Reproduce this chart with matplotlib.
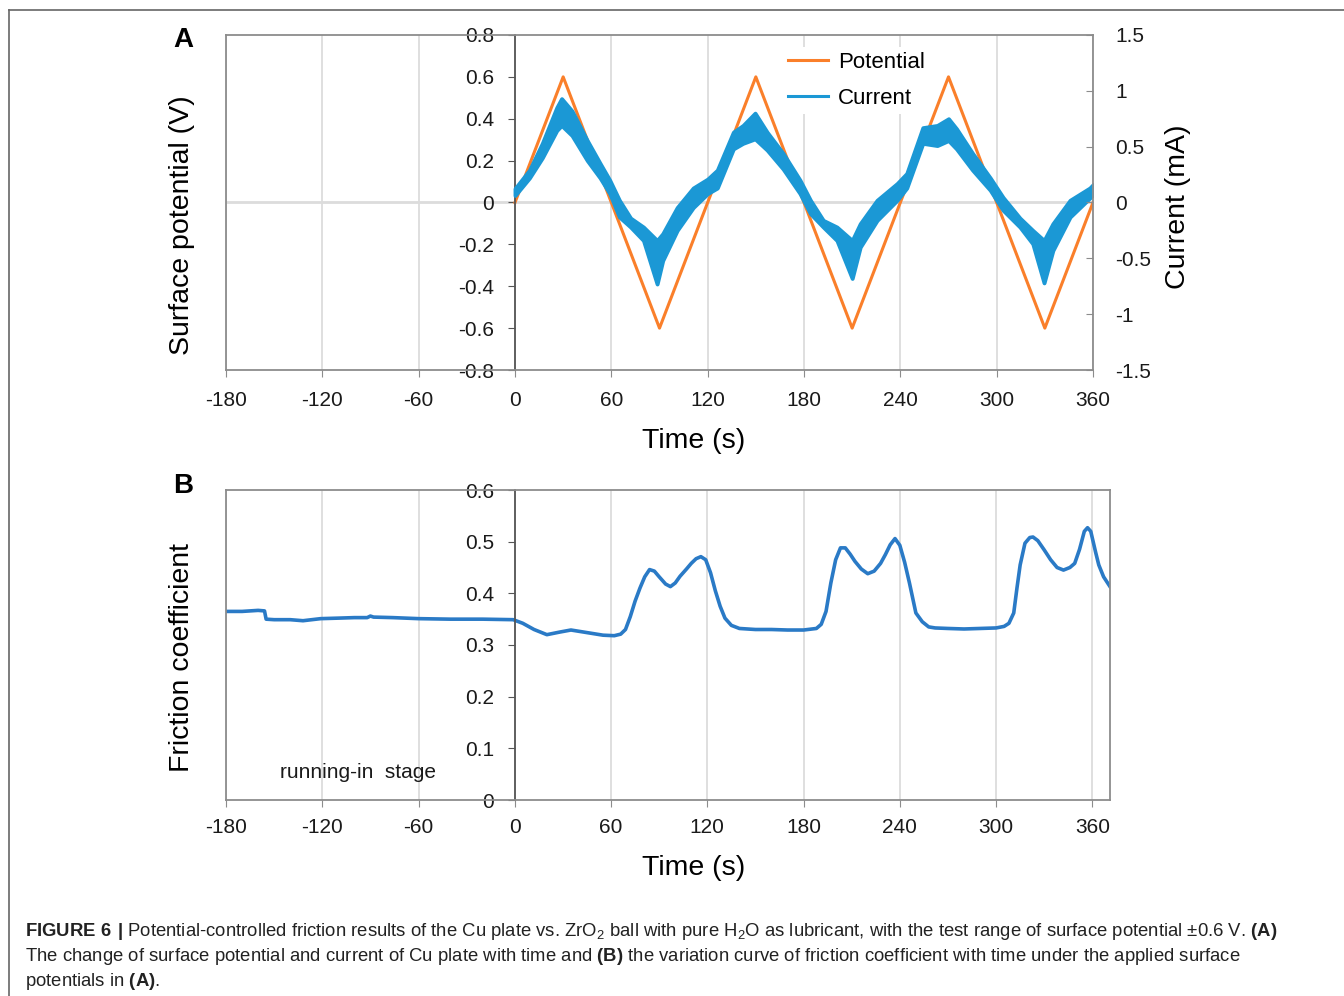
import matplotlib
matplotlib.use('Agg')
import matplotlib.pyplot as plt
from matplotlib import font_manager
from matplotlib.lines import Line2D

names = {f.name for f in font_manager.fontManager.ttflist}
narrow = 'Liberation Sans Narrow' in names
cap_font = 'Liberation Sans Narrow' if narrow else 'Liberation Sans'
cap_size = 15 if narrow else 13.3

plt.rcParams['font.family'] = ['Liberation Sans', 'DejaVu Sans']
plt.rcParams['mathtext.fontset'] = 'custom'
plt.rcParams['mathtext.rm'] = cap_font
plt.rcParams['mathtext.bf'] = cap_font + ':bold'

# ---- data ----
pot_t = [0, 30, 90, 150, 210, 270, 330, 360]
pot_v = [0, 0.6, -0.6, 0.6, -0.6, 0.6, -0.6, 0]

cur_t = [0, 9, 17, 26, 29, 35.5, 45, 53, 59, 65, 72, 80, 88.5, 92, 101, 111, 120,
         126, 136, 142, 149.5, 157, 167, 177.5, 184, 192, 200.5, 210, 215, 225.5, 238,
         244, 254, 263, 270, 275, 285, 296, 304, 314.5, 322.5, 329.5, 335, 345.7, 358, 360]
cur_hi = [0.125, 0.29, 0.53, 0.85, 0.93, 0.82, 0.555, 0.35, 0.20, 0.02, -0.14, -0.22, -0.34, -0.28, -0.045, 0.13, 0.21,
          0.29, 0.63, 0.69, 0.80, 0.63, 0.44, 0.20, 0.02, -0.16, -0.22, -0.34, -0.19, 0.02, 0.17,
          0.26, 0.67, 0.69, 0.75, 0.66, 0.44, 0.22, 0.045, -0.14, -0.25, -0.34, -0.19, 0.02, 0.13, 0.16]
cur_lo = [0.063, 0.22, 0.40, 0.645, 0.69, 0.60, 0.376, 0.22, 0.08, -0.13, -0.22, -0.34, -0.73, -0.52, -0.25, -0.045, 0.08,
          0.13, 0.48, 0.53, 0.57, 0.47, 0.30, 0.08, -0.10, -0.22, -0.34, -0.68, -0.40, -0.16, 0.02,
          0.13, 0.53, 0.51, 0.555, 0.48, 0.29, 0.11, -0.07, -0.22, -0.37, -0.72, -0.43, -0.13, 0.04, 0.07]

fric_t = [-180, -170, -160, -156, -155, -150, -140, -132, -121, -110, -100, -92, -90, -88, -76, -60, -40, -20, -1,
          5, 12, 20, 28, 35, 45, 55, 62, 66, 69, 72, 75, 78, 81, 84, 87, 90, 94, 97, 100, 103, 107, 110, 113,
          116, 119, 122, 125, 128, 131, 135, 140, 150, 160, 170, 180, 188, 191, 194, 197, 200, 203, 206, 209,
          212, 216, 220, 224, 228, 231, 234, 237, 240, 243, 246, 250, 254, 258, 262, 270, 280, 290, 300, 305,
          308, 311, 313, 315, 318, 321, 323, 326, 330, 334, 338, 342, 346, 349, 352, 355, 357, 359, 362, 364,
          367, 371]
fric_v = [0.365, 0.365, 0.367, 0.366, 0.350, 0.349, 0.349, 0.347, 0.351, 0.352, 0.353, 0.353, 0.356, 0.354, 0.353,
          0.351, 0.350, 0.350, 0.349,
          0.342, 0.330, 0.320, 0.325, 0.329, 0.324, 0.319, 0.318, 0.321, 0.330, 0.355, 0.385, 0.410, 0.432, 0.446,
          0.443, 0.432, 0.418, 0.413, 0.420, 0.433, 0.447, 0.458, 0.467,
          0.471, 0.465, 0.440, 0.405, 0.375, 0.352, 0.338, 0.332, 0.330, 0.330, 0.329, 0.329, 0.332, 0.340, 0.365,
          0.420, 0.465, 0.488, 0.488, 0.476,
          0.462, 0.447, 0.438, 0.443, 0.458, 0.475, 0.494, 0.506, 0.493, 0.460, 0.420, 0.362, 0.345, 0.335, 0.333,
          0.332, 0.331, 0.332, 0.333, 0.336,
          0.342, 0.362, 0.410, 0.455, 0.497, 0.508, 0.509, 0.502, 0.484, 0.465, 0.450, 0.445, 0.450, 0.458, 0.485,
          0.520, 0.527, 0.520, 0.480, 0.455,
          0.432, 0.413]

x_ticks = [-180, -120, -60, 0, 60, 120, 180, 240, 300, 360]
pot_ticks = [-0.8, -0.6, -0.4, -0.2, 0, 0.2, 0.4, 0.6, 0.8]
pot_labels = ['-0.8', '-0.6', '-0.4', '-0.2', '0', '0.2', '0.4', '0.6', '0.8']
cur_ticks = [-1.5, -1, -0.5, 0, 0.5, 1, 1.5]
cur_labels = ['-1.5', '-1', '-0.5', '0', '0.5', '1', '1.5']
fric_ticks = [0, 0.1, 0.2, 0.3, 0.4, 0.5, 0.6]
fric_labels = ['0', '0.1', '0.2', '0.3', '0.4', '0.5', '0.6']

ORANGE = '#FA7F2A'
CYAN = '#1B98D5'
BLUE = '#2A7AC6'
FRAME = '#8c8c8c'
AXIS = '#555555'
GRID = '#dcdcdc'

fig = plt.figure(figsize=(13.44, 9.96), dpi=100)


def setup(ax, xmax, xpad):
    ax.set_xlim(-180, xmax)
    ax.set_xticks(x_ticks)
    ax.set_xticklabels([str(v) for v in x_ticks])
    ax.grid(axis='x', color=GRID, lw=1.3)
    ax.spines['left'].set_position(('data', 0))
    ax.spines['left'].set_color(AXIS)
    ax.spines['left'].set_linewidth(1.3)
    for s in ['top', 'bottom', 'right']:
        ax.spines[s].set_color(FRAME)
        ax.spines[s].set_linewidth(1.3)
    ax.axvline(-180, color=FRAME, lw=1.3, clip_on=False, zorder=3)
    ax.tick_params(axis='x', labelsize=15, length=5, color=FRAME, pad=xpad, labelcolor='#1a1a1a')
    ax.tick_params(axis='y', labelsize=15, length=5, color=AXIS, pad=10, labelcolor='#1a1a1a')


# ---- panel A ----
ax1 = fig.add_axes([226 / 1344, 1 - 370 / 996, 867 / 1344, 335 / 996])
setup(ax1, 360, 10)
ax1.set_ylim(-0.8, 0.8)
ax1.set_yticks(pot_ticks)
ax1.set_yticklabels(pot_labels)
ax1.axhline(0, color=GRID, lw=2, zorder=0.5)
ax1.spines['right'].set_visible(False)
l_pot, = ax1.plot(pot_t, pot_v, color=ORANGE, lw=2.2, label='Potential')

ax2 = ax1.twinx()
ax2.set_ylim(-1.5, 1.5)
ax2.set_yticks(cur_ticks)
ax2.set_yticklabels(cur_labels)
for s in ['top', 'bottom', 'left']:
    ax2.spines[s].set_visible(False)
ax2.spines['right'].set_color(FRAME)
ax2.spines['right'].set_linewidth(1.3)
ax2.tick_params(axis='y', direction='in', labelsize=15, length=5, color=FRAME, pad=16, labelcolor='#1a1a1a')
ax2.fill_between(cur_t, cur_lo, cur_hi, color=CYAN, lw=2.8, edgecolor=CYAN)
l_cur = Line2D([], [], color=CYAN, lw=2.2, label='Current')
leg = ax2.legend(handles=[l_pot, l_cur], loc='upper left', bbox_to_anchor=(0.634, 0.985),
                 fontsize=16, frameon=True, edgecolor='none', facecolor='white', framealpha=1,
                 handlelength=1.8, handletextpad=0.45, labelspacing=0.65, borderpad=0.25, borderaxespad=0.3)

# ---- panel B ----
ax3 = fig.add_axes([226 / 1344, 1 - 800 / 996, 884 / 1344, 310 / 996])
setup(ax3, 371, 8)
ax3.set_ylim(0, 0.6)
ax3.set_yticks(fric_ticks)
ax3.set_yticklabels(fric_labels)
ax3.plot(fric_t, fric_v, color=BLUE, lw=2.6)
ax3.text(-98, 0.053, 'running-in  stage', fontsize=15, ha='center', va='center', color='#1a1a1a')

# ---- labels ----
fig.text(183 / 1344, 1 - 40 / 996, 'A', fontsize=20, fontweight='bold', ha='center', va='center')
fig.text(183 / 1344, 1 - 486 / 996, 'B', fontsize=20, fontweight='bold', ha='center', va='center')
fig.text(182 / 1344, 1 - 225 / 996, 'Surface potential (V)', fontsize=20.5, rotation=90, ha='center', va='center')
fig.text(182 / 1344, 1 - 658 / 996, 'Friction coefficient', fontsize=20.5, rotation=90, ha='center', va='center')
fig.text(1178 / 1344, 1 - 207 / 996, 'Current (mA)', fontsize=20.5, rotation=90, ha='center', va='center')
fig.text(694 / 1344, 1 - 441 / 996, 'Time (s)', fontsize=20.5, ha='center', va='center')
fig.text(694 / 1344, 1 - 868 / 996, 'Time (s)', fontsize=20.5, ha='center', va='center')

# ---- caption ----
cap = [
    r'$\mathbf{FIGURE\ 6\ |}$ Potential-controlled friction results of the Cu plate vs. ZrO$_\mathregular{2}$ ball '
    r'with pure H$_\mathregular{2}$O as lubricant, with the test range of surface potential ±0.6 V. $\mathbf{(A)}$',
    r'The change of surface potential and current of Cu plate with time and $\mathbf{(B)}$ the variation curve '
    r'of friction coefficient with time under the applied surface',
    r'potentials in $\mathbf{(A)}$.',
]
for i, line in enumerate(cap):
    fig.text(25 / 1344, 1 - (936 + 25 * i) / 996, line, fontsize=cap_size, family=cap_font,
             ha='left', va='baseline', color='#222222')

# frame of the figure panel
fig.add_artist(Line2D([9 / 1344, 1], [1 - 10 / 996] * 2, color='#666666', lw=1.2, transform=fig.transFigure))
fig.add_artist(Line2D([9 / 1344] * 2, [1 - 10 / 996, 0], color='#666666', lw=1.2, transform=fig.transFigure))

fig.savefig('out.png', dpi=100)
